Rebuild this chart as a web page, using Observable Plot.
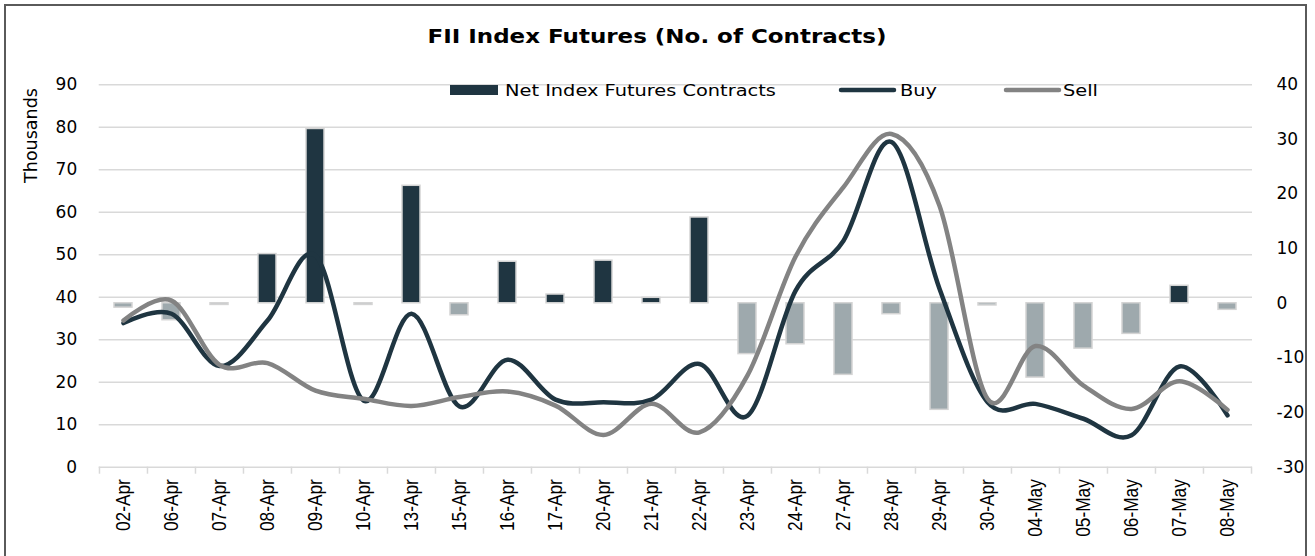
<!DOCTYPE html>
<html>
<head>
<meta charset="utf-8">
<script src="https://cdn.jsdelivr.net/npm/d3@7"></script>
<script src="https://cdn.jsdelivr.net/npm/@observablehq/plot@0.6"></script>
<style>
html, body { margin: 0; padding: 0; background: #fff; }
#wrap { position: relative; width: 1315px; height: 556px; overflow: hidden; background: #fff; }
#frame { position: absolute; left: 4px; top: 4px; width: 1303px; height: 620px; border: 2px solid #5a5a5a; box-sizing: border-box; }
.layer { position: absolute; left: 0; top: 0; }
.layer svg { overflow: visible; }
#annot { position: absolute; left: 0; top: 0; }
</style>
</head>
<body>
<div id="wrap">
  <div id="frame"></div>
  <div class="layer" id="layerGrid"></div>
  <div class="layer" id="layerBars"></div>
  <div class="layer" id="layerLines"></div>
  <svg id="annot" width="1315" height="556">
    <text x="657" y="43.5" text-anchor="middle" font-family="DejaVu Sans" font-weight="bold" font-size="19" fill="#000" transform="translate(657,0) scale(1.21,1) translate(-657,0)">FII Index Futures (No. of Contracts)</text>
    <text transform="translate(37,135.5) rotate(-90)" text-anchor="middle" font-family="DejaVu Sans" font-size="17.5" fill="#000">Thousands</text>
    <g id="legend"></g>
  </svg>
</div>
<script>
// ---- data ----
const dates = ["02-Apr","06-Apr","07-Apr","08-Apr","09-Apr","10-Apr","13-Apr","15-Apr","16-Apr","17-Apr","20-Apr","21-Apr","22-Apr","23-Apr","24-Apr","27-Apr","28-Apr","29-Apr","30-Apr","04-May","05-May","06-May","07-May","08-May"];
const netContracts = [-0.8, -3.1, -0.3, 9.0, 31.9, -0.3, 21.5, -2.2, 7.6, 1.6, 7.8, 1.0, 15.7, -9.3, -7.5, -13.1, -2.0, -19.5, -0.4, -13.6, -8.3, -5.6, 3.2, -1.2];
const buy = [33.9, 36.1, 23.8, 34.5, 49.8, 15.7, 36.1, 14.3, 25.3, 15.9, 15.3, 15.9, 24.3, 12.1, 41.5, 53.3, 76.5, 42.0, 15.3, 14.9, 11.4, 7.5, 23.7, 12.2];
const sell = [34.5, 39.2, 24.1, 24.5, 18.0, 16.1, 14.4, 16.5, 17.8, 14.5, 7.6, 14.9, 8.2, 21.6, 49.5, 65.9, 78.4, 61.5, 16.1, 28.5, 19.2, 13.7, 20.2, 13.5];
const leftTicks = [0, 10, 20, 30, 40, 50, 60, 70, 80, 90];
const rightTicks = [-30, -20, -10, 0, 10, 20, 30, 40];
const seriesNames = ["Net Index Futures Contracts", "Buy", "Sell"];

// ---- styling / layout ----
const colors = {pos: "#1f3541", neg: "#9ea9ad", buy: "#1f3541", sell: "#838383", grid: "#d9d9d9", barStroke: "#d4d4d4"};
const W = 1315, H = 556;
const ML = 98.7, MR = W - 1252, MT = 84.2, MB = H - 466.7;
const step = (W - ML - MR) / dates.length;

const rows = dates.map((d, i) => ({date: d, net: netContracts[i], buy: buy[i], sell: sell[i]}));
const xOpts = {type: "band", domain: dates, paddingInner: 0.625, paddingOuter: 0.3125, axis: null, label: null};
const base = {width: W, height: H, marginLeft: ML, marginRight: MR, marginTop: MT, marginBottom: MB};

// Layer 1: grid + x axis
const gridPlot = Plot.plot({
  ...base,
  style: {background: "transparent", fontFamily: "'Liberation Sans',sans-serif", fontSize: "17.3px", color: "#000"},
  x: xOpts,
  y: {domain: [0, 90], axis: null, label: null},
  marks: [
    Plot.ruleY(leftTicks, {stroke: colors.grid, strokeWidth: 1.5}),
    Plot.ruleX(dates, {x: d => d, y1: 0, y2: 0, insetTop: 7, dx: -step / 2, stroke: colors.grid, strokeWidth: 1.5}),
    Plot.ruleX([dates[dates.length - 1]], {x: d => d, y1: 0, y2: 0, insetTop: 7, dx: step / 2, stroke: colors.grid, strokeWidth: 1.5}),
    Plot.axisX({tickSize: 0, tickPadding: 12, tickRotate: -90, fill: "#000", label: null})
  ]
});
document.getElementById("layerGrid").append(gridPlot);
// taller glyphs across the reading direction, as in the reference
d3.select(gridPlot).selectAll("text")
  .attr("font-family", "Liberation Sans")
  .attr("font-size", 17.3)
  .attr("transform", function() {
    const t = this.getAttribute("transform") || "";
    return t + " scale(1,1.21)";
  });

// Layer 2: bars on right axis
const barPlot = Plot.plot({
  ...base,
  style: {background: "transparent", fontFamily: "'DejaVu Sans',sans-serif", fontSize: "17px", color: "#000"},
  x: xOpts,
  y: {domain: [-30, 40], axis: null, label: null},
  marks: [
    Plot.barY(rows, {filter: d => d.net >= 0, x: "date", y: "net", fill: colors.pos, stroke: colors.barStroke, strokeWidth: 1.5}),
    Plot.barY(rows, {filter: d => d.net < 0, x: "date", y: "net", fill: colors.neg, stroke: colors.barStroke, strokeWidth: 1.5}),
    Plot.axisY(rightTicks, {anchor: "right", tickSize: 0, tickPadding: 24, textAnchor: "start", tickFormat: d => String(d), fill: "#000", label: null})
  ]
});
document.getElementById("layerBars").append(barPlot);

// Layer 3: lines on left axis
const linePlot = Plot.plot({
  ...base,
  style: {background: "transparent", fontFamily: "'DejaVu Sans',sans-serif", fontSize: "17px", color: "#000"},
  x: xOpts,
  y: {domain: [0, 90], axis: null, label: null},
  marks: [
    Plot.axisY(leftTicks, {anchor: "left", tickSize: 0, tickPadding: 22, fill: "#000", label: null}),
    Plot.line(rows, {x: "date", y: "buy", stroke: colors.buy, strokeWidth: 4.5, curve: "catmull-rom", tension: 0, strokeLinecap: "round"}),
    Plot.line(rows, {x: "date", y: "sell", stroke: colors.sell, strokeWidth: 4.5, curve: "catmull-rom", tension: 0, strokeLinecap: "round"})
  ]
});
document.getElementById("layerLines").append(linePlot);

// Legend
const lg = d3.select("#legend");
lg.append("rect").attr("x", 450).attr("y", 85).attr("width", 48).attr("height", 10).attr("fill", colors.pos);
lg.append("line").attr("x1", 841).attr("x2", 894).attr("y1", 90).attr("y2", 90).attr("stroke", colors.buy).attr("stroke-width", 4.5).attr("stroke-linecap", "round");
lg.append("line").attr("x1", 1006).attr("x2", 1059).attr("y1", 90).attr("y2", 90).attr("stroke", colors.sell).attr("stroke-width", 4.5).attr("stroke-linecap", "round");
const legendX = [505, 900, 1063];
seriesNames.forEach((name, i) => {
  lg.append("text").attr("x", 0).attr("y", 0)
    .attr("transform", `translate(${legendX[i]},95.5) scale(1.25,1)`)
    .attr("font-family", "DejaVu Sans").attr("font-size", 15.5).attr("fill", "#000")
    .text(name);
});
</script>
</body>
</html>
